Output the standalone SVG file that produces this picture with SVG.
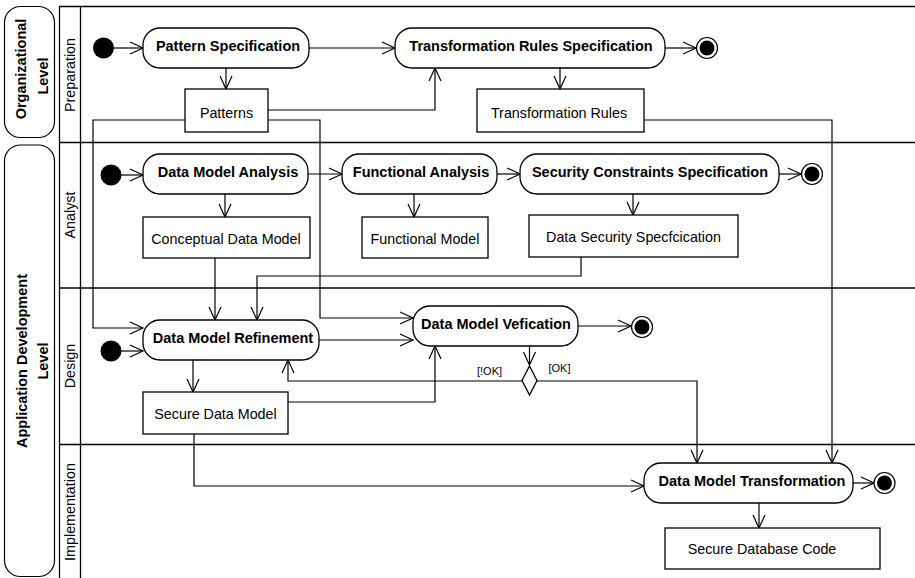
<svg xmlns="http://www.w3.org/2000/svg" width="915" height="578" viewBox="0 0 915 578">
<style>
.frame{fill:none;stroke:#000;stroke-width:1.3}
.act{fill:#fff;stroke:#000;stroke-width:1.3}
.obj{fill:#fff;stroke:#000;stroke-width:1.3}
.lvl{fill:#fff;stroke:#000;stroke-width:1.2}
.b{font-family:"Liberation Sans",Arial,sans-serif;font-size:14.5px;font-weight:bold;text-anchor:middle;fill:#000}
.r{font-family:"Liberation Sans",Arial,sans-serif;font-size:14.3px;text-anchor:middle;fill:#000}
.g{font-family:"Liberation Sans",Arial,sans-serif;font-size:11px;text-anchor:middle;fill:#000}
.flow{fill:none;stroke:#000;stroke-width:1.2;marker-end:url(#arr)}
.line{fill:none;stroke:#000;stroke-width:1.2}
.init{fill:#000}
.fin{fill:#fff;stroke:#000;stroke-width:1.2}
</style>
<defs>
<marker id="arr" markerUnits="userSpaceOnUse" markerWidth="16" markerHeight="16" viewBox="-14 -8 16 16" refX="0" refY="0" orient="auto">
<path d="M-13,-6 L0,0 L-13,6" fill="none" stroke="#000" stroke-width="1.2"/>
</marker>
</defs>
<rect width="915" height="578" fill="#fff"/>
<g id="frame">
<line class="frame" x1="59" y1="6.5" x2="915" y2="6.5"/>
<line class="frame" x1="59.5" y1="6" x2="59.5" y2="578"/>
<line class="frame" x1="80.5" y1="6" x2="80.5" y2="578"/>
<line class="frame" x1="59" y1="142.5" x2="915" y2="142.5" stroke-width="1.6"/>
<line class="frame" x1="59" y1="288" x2="915" y2="288" stroke-width="1.6"/>
<line class="frame" x1="59" y1="444.5" x2="915" y2="444.5" stroke-width="1.6"/>
</g>
<g id="level-organizational">
<rect class="lvl" x="4.5" y="6.5" width="50" height="131" rx="16"/>
<text class="b" transform="translate(26,69) rotate(-90)">Organizational</text>
<text class="b" transform="translate(48,76) rotate(-90)">Level</text>
</g>
<g id="level-application">
<rect class="lvl" x="4.5" y="145" width="50" height="431.5" rx="16"/>
<text class="b" transform="translate(27,361) rotate(-90)">Application Development</text>
<text class="b" transform="translate(48,361) rotate(-90)">Level</text>
</g>
<g id="lane-labels">
<text class="r" transform="translate(75,75) rotate(-90)">Preparation</text>
<text class="r" transform="translate(75,215) rotate(-90)">Analyst</text>
<text class="r" transform="translate(75,366) rotate(-90)">Design</text>
<text class="r" transform="translate(75,512) rotate(-90)">Implementation</text>
</g>
<g id="connectors">
<path class="flow" d="M114,48 H143"/>
<path class="flow" d="M226,68 V89"/>
<path class="flow" d="M309,48 H395"/>
<path class="flow" d="M665,48 H696"/>
<path class="flow" d="M560,68 V89"/>
<path class="flow" d="M268,110 H435 V68"/>
<path class="flow" d="M185,120 H93 V328 H143"/>
<path class="flow" d="M268,120 H320 V318 H413"/>
<path class="flow" d="M644,120 H832 V463"/>
<path class="flow" d="M121,175 H143"/>
<path class="flow" d="M308,174 H342"/>
<path class="flow" d="M497,174 H520"/>
<path class="flow" d="M779,174 H801"/>
<path class="flow" d="M225,194 V217"/>
<path class="flow" d="M414,194 V217"/>
<path class="flow" d="M633,194 V215"/>
<path class="flow" d="M215,258 V320"/>
<path class="flow" d="M581,257 V276 H257 V320"/>
<path class="flow" d="M121,351 H143"/>
<path class="flow" d="M319,340 H413"/>
<path class="flow" d="M578,326 H631"/>
<path class="flow" d="M529.5,346 V365"/>
<path class="flow" d="M522,381 H288 V360"/>
<path class="flow" d="M537,381 H697 V463"/>
<path class="flow" d="M193,360 V392"/>
<path class="flow" d="M288,402 H435 V346"/>
<path class="flow" d="M194,434 V486 H644"/>
<path class="flow" d="M853,483 H874"/>
<path class="flow" d="M759,503 V528"/>
<text class="g" x="489.5" y="375">[!OK]</text>
<text class="g" x="559.5" y="372">[OK]</text>
</g>
<g id="init-prep"><circle class="init" cx="103.5" cy="48" r="10.5"/></g>
<g id="pattern-specification">
<rect class="act" x="143" y="28" width="166" height="40" rx="17"/>
<text class="b" x="228" y="51">Pattern Specification</text>
</g>
<g id="patterns">
<rect class="obj" x="185" y="89" width="83" height="43"/>
<text class="r" x="226.5" y="118">Patterns</text>
</g>
<g id="transformation-rules-specification">
<rect class="act" x="395" y="28" width="270" height="40" rx="17"/>
<text class="b" x="531" y="51">Transformation Rules Specification</text>
</g>
<g id="final-prep">
<circle class="fin" cx="707" cy="48" r="10.5"/>
<circle class="init" cx="707" cy="48" r="7.5"/>
</g>
<g id="transformation-rules">
<rect class="obj" x="477" y="89" width="167" height="43"/>
<text class="r" x="559" y="118">Transformation Rules</text>
</g>
<g id="init-analyst"><circle class="init" cx="111" cy="175" r="10.5"/></g>
<g id="data-model-analysis">
<rect class="act" x="143" y="154" width="165" height="40" rx="17"/>
<text class="b" x="228" y="177">Data Model Analysis</text>
</g>
<g id="functional-analysis">
<rect class="act" x="342" y="154" width="155" height="40" rx="17"/>
<text class="b" x="421" y="177">Functional Analysis</text>
</g>
<g id="security-constraints-specification">
<rect class="act" x="520" y="154" width="259" height="40" rx="17"/>
<text class="b" x="650" y="177">Security Constraints Specification</text>
</g>
<g id="final-analyst">
<circle class="fin" cx="812" cy="174" r="10.5"/>
<circle class="init" cx="812" cy="174" r="7.5"/>
</g>
<g id="conceptual-data-model">
<rect class="obj" x="143" y="217" width="167" height="41"/>
<text class="r" x="226" y="243.5">Conceptual Data Model</text>
</g>
<g id="functional-model">
<rect class="obj" x="362" y="217" width="126" height="41"/>
<text class="r" x="425" y="243.5">Functional Model</text>
</g>
<g id="data-security-specification">
<rect class="obj" x="529" y="215" width="209" height="42"/>
<text class="r" x="633.5" y="242">Data Security Specfcication</text>
</g>
<g id="init-design"><circle class="init" cx="111" cy="351" r="10.5"/></g>
<g id="data-model-refinement">
<rect class="act" x="143" y="320" width="176" height="40" rx="17"/>
<text class="b" x="233" y="343">Data Model Refinement</text>
</g>
<g id="data-model-verification">
<rect class="act" x="413" y="306" width="165" height="40" rx="17"/>
<text class="b" x="496" y="329">Data Model Vefication</text>
</g>
<g id="final-design">
<circle class="fin" cx="642" cy="327" r="10.5"/>
<circle class="init" cx="642" cy="327" r="7.5"/>
</g>
<g id="decision">
<path class="act" d="M529.5,366 L537,380.5 L529.5,395 L522,380.5 Z"/>
</g>
<g id="secure-data-model">
<rect class="obj" x="143" y="392" width="145" height="42"/>
<text class="r" x="215.5" y="418.5">Secure Data Model</text>
</g>
<g id="data-model-transformation">
<rect class="act" x="644" y="463" width="209" height="40" rx="17"/>
<text class="b" x="752" y="486">Data Model Transformation</text>
</g>
<g id="final-impl">
<circle class="fin" cx="884.5" cy="483" r="10.5"/>
<circle class="init" cx="884.5" cy="483" r="7.5"/>
</g>
<g id="secure-database-code">
<rect class="obj" x="665" y="528" width="215" height="41"/>
<text class="r" x="762" y="554">Secure Database Code</text>
</g>
</svg>
